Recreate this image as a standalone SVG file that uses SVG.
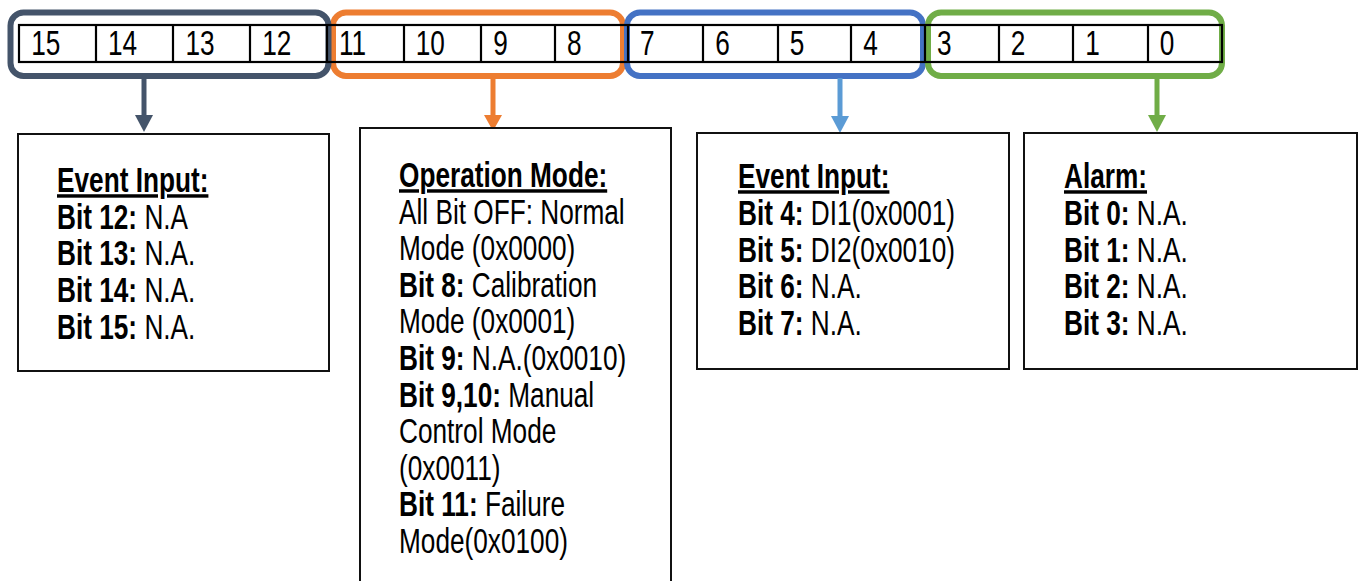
<svg xmlns="http://www.w3.org/2000/svg" width="1365" height="581" viewBox="0 0 1365 581">
<style>
text{font-family:"Liberation Sans",Arial,sans-serif;font-size:34.5px;fill:#000}
.b{font-weight:bold}
.u{font-weight:bold;text-decoration:underline}
.box{fill:#fff;stroke:#111;stroke-width:2}
.cell{fill:none;stroke:#000;stroke-width:2.2}
.br{fill:none;stroke-width:6}
.sh{fill:none;stroke-width:5}
</style>
<rect width="1365" height="581" fill="#fff"/>
<g id="brackets">
<rect class="br" x="333" y="12.5" width="290" height="63.5" rx="13" stroke="#ED7D31"/>
<rect class="br" x="10.5" y="12.5" width="318" height="63.5" rx="13" stroke="#44546A"/>
<rect class="br" x="627" y="12.5" width="296" height="63.5" rx="13" stroke="#4472C4"/>
<rect class="br" x="928" y="12.5" width="294" height="63.5" rx="13" stroke="#70AD47"/>
</g>
<g id="register">
<rect class="cell" x="19" y="25" width="1203" height="37"/>
<path class="cell" d="M96 25V62M173 25V62M250 25V62M327 25V62M404 25V62M481 25V62M555 25V62M628 25V62M703 25V62M778 25V62M851 25V62M925 25V62M999 25V62M1073 25V62M1148 25V62"/>
<g transform="translate(0,55) scale(0.76,1)">
<text x="41">15</text>
<text x="142">14</text>
<text x="244">13</text>
<text x="345">12</text>
<text x="446">11</text>
<text x="547">10</text>
<text x="649">9</text>
<text x="746">8</text>
<text x="842">7</text>
<text x="941">6</text>
<text x="1039">5</text>
<text x="1136">4</text>
<text x="1233">3</text>
<text x="1330">2</text>
<text x="1428">1</text>
<text x="1526">0</text>
</g>
</g>
<g id="connectors">
<path class="sh" d="M144 79V116" stroke="#44546A"/>
<polygon points="135,115 153,115 144,132" fill="#44546A"/>
<path class="sh" d="M493 79V116" stroke="#ED7D31"/>
<polygon points="484,115 502,115 493,131" fill="#ED7D31"/>
<path class="sh" d="M840 78V117" stroke="#5B9BD5"/>
<polygon points="831,116 849,116 840,133" fill="#5B9BD5"/>
<path class="sh" d="M1157 79V116" stroke="#70AD47"/>
<polygon points="1148,115 1166,115 1157,132" fill="#70AD47"/>
</g>
<g id="box-event-input-high">
<rect class="box" x="18" y="134" width="311" height="237"/>
<g transform="translate(57,0) scale(0.76,1)">
<text x="0" y="192" class="u">Event Input:</text>
<text x="0" y="228.7"><tspan class="b">Bit 12:</tspan> N.A</text>
<text x="0" y="265.4"><tspan class="b">Bit 13:</tspan> N.A.</text>
<text x="0" y="302"><tspan class="b">Bit 14:</tspan> N.A.</text>
<text x="0" y="338.7"><tspan class="b">Bit 15:</tspan> N.A.</text>
</g>
</g>
<g id="box-operation-mode">
<rect class="box" x="360" y="128" width="311" height="480"/>
<g transform="translate(399,0) scale(0.76,1)">
<text x="0" y="187" class="u">Operation Mode:</text>
<text x="0" y="223.6">All Bit OFF: Normal</text>
<text x="0" y="260.2">Mode (0x0000)</text>
<text x="0" y="296.8"><tspan class="b">Bit 8:</tspan> Calibration</text>
<text x="0" y="333.4">Mode (0x0001)</text>
<text x="0" y="370"><tspan class="b">Bit 9:</tspan> N.A.(0x0010)</text>
<text x="0" y="406.6"><tspan class="b">Bit 9,10:</tspan> Manual</text>
<text x="0" y="443.2">Control Mode</text>
<text x="0" y="479.8">(0x0011)</text>
<text x="0" y="516.4"><tspan class="b">Bit 11:</tspan> Failure</text>
<text x="0" y="553">Mode(0x0100)</text>
</g>
</g>
<g id="box-event-input-low">
<rect class="box" x="697" y="133" width="312" height="236"/>
<g transform="translate(738,0) scale(0.76,1)">
<text x="0" y="188" class="u">Event Input:</text>
<text x="0" y="225"><tspan class="b">Bit 4:</tspan> DI1(0x0001)</text>
<text x="0" y="261.7"><tspan class="b">Bit 5:</tspan> DI2(0x0010)</text>
<text x="0" y="298.4"><tspan class="b">Bit 6:</tspan> N.A.</text>
<text x="0" y="335"><tspan class="b">Bit 7:</tspan> N.A.</text>
</g>
</g>
<g id="box-alarm">
<rect class="box" x="1024" y="133" width="333" height="236"/>
<g transform="translate(1064,0) scale(0.76,1)">
<text x="0" y="188" class="u">Alarm:</text>
<text x="0" y="225"><tspan class="b">Bit 0:</tspan> N.A.</text>
<text x="0" y="261.7"><tspan class="b">Bit 1:</tspan> N.A.</text>
<text x="0" y="298.4"><tspan class="b">Bit 2:</tspan> N.A.</text>
<text x="0" y="335"><tspan class="b">Bit 3:</tspan> N.A.</text>
</g>
</g>
</svg>
